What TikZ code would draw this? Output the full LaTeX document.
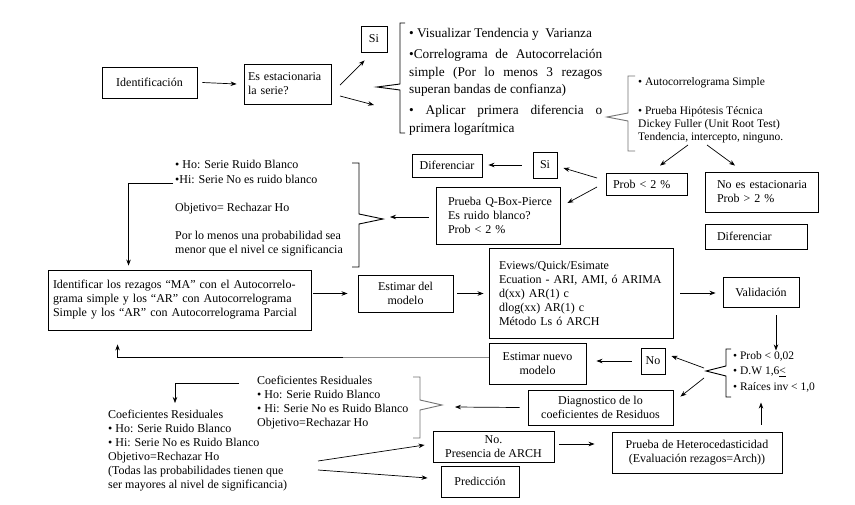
\documentclass[tikz,border=0pt]{standalone}
\usepackage{fontspec}
\setmainfont{Liberation Serif}
\usetikzlibrary{arrows.meta,calc}
\begin{document}
\begin{tikzpicture}[x=1pt,y=-1pt,
  bx/.style={draw, line width=0.9pt, inner sep=0pt, font=\fontsize{12}{14}\selectfont, align=center},
  lbx/.style={bx, align=left},
  arr/.style={-{Stealth[length=6pt,width=4.5pt]}, line width=0.7pt},
  brk/.style={line width=0.9pt},
  gbrk/.style={line width=0.9pt, draw=black!55},
  txt/.style={inner sep=0pt, anchor=north west, align=left, font=\fontsize{12}{14}\selectfont}]

\fill[white] (0,0) rectangle (855,504);
\useasboundingbox (0,0) rectangle (855,504);

% ---------- boxes ----------
\node[bx, minimum width=95pt, minimum height=31pt] (ident) at (149.5,82.5) {Identificación};
\node[lbx, minimum width=87pt, minimum height=40pt, text width=79pt] (estac) at (287.5,84) {\mbox{Es estacionaria}\\la serie?};
\node[bx, minimum width=26pt, minimum height=26pt] (si1) at (374,39) {Si};
\node[lbx, minimum width=81pt, minimum height=22pt, text width=67pt] (prob) at (646.5,184) {\mbox{Prob < 2 \%}};
\node[lbx, minimum width=113pt, minimum height=40pt, text width=89pt] (noest) at (761.5,192) {\mbox{No es estacionaria}\\\mbox{Prob > 2 \%}};
\node[lbx, minimum width=102pt, minimum height=25pt, text width=78pt] (dif2) at (756,236.5) {Diferenciar};
\node[bx, minimum width=24pt, minimum height=26pt] (si2) at (545,165) {Si};
\node[bx, minimum width=70pt, minimum height=23pt] (dif1) at (447,165.5) {Diferenciar};
\node[lbx, minimum width=124pt, minimum height=57pt, text width=100pt] (qbox) at (498,215.5) {\mbox{Prueba Q-Box-Pierce}\\\mbox{Es ruido blanco?}\\\mbox{Prob < 2 \%}};
\node[lbx, minimum width=263pt, minimum height=60pt, text width=253pt] (identif) at (179.5,300) {\mbox{Identificar los rezagos “MA” con el Autocorrelo-}\\\mbox{grama simple y los “AR” con Autocorrelograma}\\\mbox{Simple y los “AR” con Autocorrelograma Parcial}};
\node[bx, minimum width=95pt, minimum height=37pt] (estim) at (405.5,293.5) {Estimar del\\modelo};
\node[lbx, minimum width=184pt, minimum height=90pt, text width=164pt] (eviews) at (581,293) {Eviews/Quick/Esimate\\\mbox{Ecuation - ARI, AMI, ó ARIMA}\\d(xx) AR(1) c\\dlog(xx) AR(1) c\\Método Ls ó ARCH};
\node[bx, minimum width=76pt, minimum height=30pt] (valid) at (761,292) {Validación};
\node[bx, minimum width=97pt, minimum height=41pt] (nuevo) at (537.5,363.5) {Estimar nuevo\\modelo};
\node[bx, minimum width=24pt, minimum height=26pt] (no) at (653,361) {No};
\node[bx, minimum width=145pt, minimum height=35pt] (diag) at (600.5,407.5) {Diagnostico de lo\\coeficientes de Residuos};
\node[bx, minimum width=121pt, minimum height=31pt] (arch) at (493.5,446.5) {No.\\Presencia de ARCH};
\node[bx, minimum width=170pt, minimum height=41pt] (hetero) at (697,452.5) {Prueba de Heterocedasticidad\\(Evaluación rezagos=Arch))};
\node[bx, minimum width=78pt, minimum height=31pt] (pred) at (480,481.5) {Predicción};

% ---------- free text blocks ----------
\node[txt, font=\fontsize{13.3}{17.5}\selectfont] (t1) at (409,28) {%
• Visualizar Tendencia y\ \ Varianza\\[4pt]
\makebox[193pt][s]{•Correlograma de Autocorrelación}\\
\makebox[193pt][s]{simple (Por lo menos 3 rezagos}\\
superan bandas de confianza)\\[3.5pt]
\makebox[193pt][s]{• Aplicar primera diferencia o}\\
primera logarítmica};
\node[txt, font=\fontsize{11.5}{13.2}\selectfont] (t2a) at (638,77) {• Autocorrelograma Simple};
\node[txt, font=\fontsize{11.5}{13.2}\selectfont] (t2b) at (638,106) {• Prueba Hipótesis Técnica\\Dickey Fuller (Unit Root Test)\\Tendencia, intercepto, ninguno.};
\node[txt, font=\fontsize{12}{15}\selectfont] (t3a) at (175,160) {• Ho: Serie Ruido Blanco\\•Hi: Serie No es ruido blanco};
\node[txt] (t3b) at (175,203) {Objetivo= Rechazar Ho};
\node[txt] (t3c) at (175,231) {Por lo menos una probabilidad sea\\menor que el nivel ce significancia};
\node[txt] (t4) at (257,376) {Coeficientes Residuales\\• Ho: Serie Ruido Blanco\\• Hi: Serie No es Ruido Blanco\\Objetivo=Rechazar Ho};
\node[txt] (t5) at (108,410) {Coeficientes Residuales\\• Ho: Serie Ruido Blanco\\• Hi: Serie No es Ruido Blanco\\Objetivo=Rechazar Ho\\(Todas las probabilidades tienen que\\ser mayores al nivel de significancia)};
\node[txt, font=\fontsize{11.5}{15.5}\selectfont] (t6) at (733,351) {• Prob < 0,02\\• D.W 1,6\underline{<}\\• Raíces inv < 1,0};

% ---------- brackets ----------
\coordinate (b1) at (377,87);
\coordinate (b2) at (607,117);
\coordinate (b3) at (383,219);
\coordinate (b4) at (442,405);
\coordinate (b5) at (706,371);
\draw[brk] (405,23) -- (400,23) -- (400,84) -- (b1) -- (400,90) -- (400,133) -- (405,133);
\draw[gbrk] (635,76) -- (628,76) -- (628,113) -- (b2) -- (628,121) -- (628,151) -- (635,151);
\draw[brk] (352,163) -- (359,163) -- (359,214) -- (b3) -- (359,224) -- (359,267) -- (352,267);
\draw[gbrk] (413,377) -- (420,377) -- (420,400) -- (b4) -- (420,410) -- (420,438) -- (413,438);
\draw[brk] (731,349) -- (726,349) -- (726,366) -- (b5) -- (726,376) -- (726,397) -- (731,397);

% ---------- named free ends ----------
\coordinate (e1) at (340,85);
\coordinate (e2) at (340,96);
\coordinate (b1in) at (374,105);
\coordinate (t2l) at (688,145);
\coordinate (t2r) at (707,145);
\coordinate (p1) at (597,178);
\coordinate (p2) at (597,187);
\coordinate (c3) at (173,183);
\coordinate (c4) at (239,383);
\coordinate (c5a) at (318,461);
\coordinate (c5b) at (318,470);
\coordinate (b5a) at (704,368);
\coordinate (b5b) at (704,378);
\coordinate (ret) at (343,357);

% ---------- connectors ----------
\draw[arr] ([xshift=5pt]ident.east) -- ([xshift=-7pt]estac.west);
\draw[arr] (e1) -- ($(si1.south west)+(4,8)$);
\draw[arr] (e2) -- (b1in);
\draw[arr] (t2l) -- ($(prob.north)+(13.5,-7)$);
\draw[arr] (t2r) -- ($(noest.north)+(-26.5,-6)$);
\draw[arr] (p1) -- ($(si2.east)+(6,3)$);
\draw[arr] (p2) -- ($(qbox.east)+(7,-12.5)$);
\draw[arr] ([xshift=-11pt]si2.west) -- ([xshift=6pt]si2.west -| dif1.east);
\draw[arr] ($(qbox.west)+(-7,1.5)$) -- ($(b3)+(7,-2)$);
\draw[arr] (c3) -| ($(identif.north west)+(81,-4)$);
\draw[arr] ([xshift=2pt]identif.east |- estim.west) -- ([xshift=-10pt]estim.west);
\draw[arr] ([xshift=4pt]estim.east) -- ([xshift=-5pt]estim.east -| eviews.west);
\draw[arr] ([xshift=7pt]eviews.east) -- ([xshift=-7pt]eviews.east -| valid.west);
\draw[arr] ($(valid.south)+(15,8)$) -- ($(valid.south)+(15,43)$);
\draw[arr] (b5a) -- ($(no.east)+(6,-5)$);
\draw[arr] (b5b) -- ($(diag.north east)+(7,7)$);
\draw[arr] ([xshift=-9pt]no.west) -- ([xshift=10pt]no.west -| nuevo.east);
\draw[line width=0.7pt, black!45] ($(nuevo.west)+(0,-6.5)$) -- (ret);
\draw[arr] (ret) -| ($(identif.south west)+(70,14)$);
\draw[arr] ([xshift=-8pt]diag.west) -- ($(b4)+(13,2)$);
\draw[arr] (c4) -| ($(t5.north west)+(67,-7)$);
\draw[arr] (c5a) -- ($(arch.west)+(-8,-1.5)$);
\draw[arr] (c5b) -- ($(pred.west)+(-13,-3.5)$);
\draw[arr] ($(arch.east)+(5,-2.5)$) -- ($(hetero.west)+(-17,-8.5)$);
\draw[arr] ($(hetero.north)+(64,-7)$) -- ($(hetero.north)+(64,-29)$);
\end{tikzpicture}
\end{document}
